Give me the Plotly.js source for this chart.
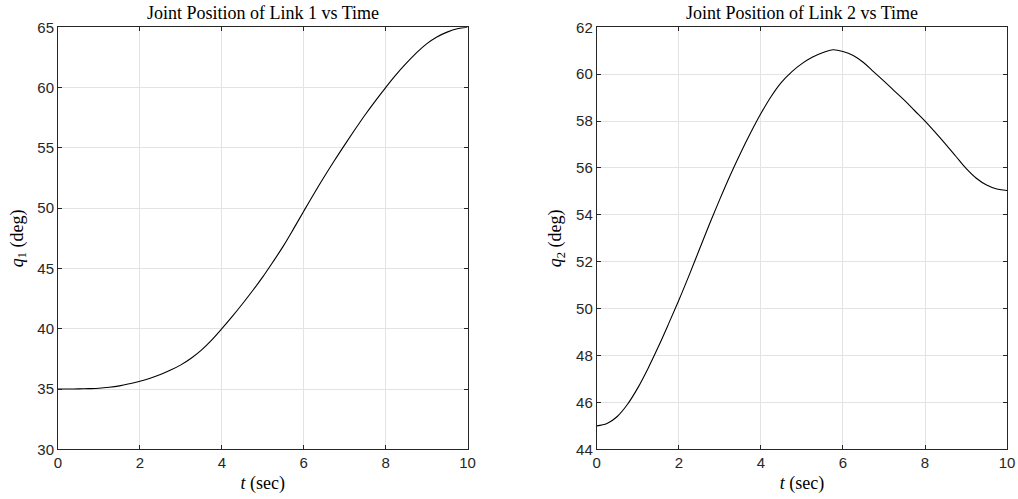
<!DOCTYPE html>
<html>
<head>
<meta charset="utf-8">
<script src="https://cdn.plot.ly/plotly-3.0.1.min.js"></script>
<style>
  html, body { margin: 0; padding: 0; background: #ffffff; }
  #chart { width: 1018px; height: 499px; }
</style>
</head>
<body>
<div id="chart"></div>
<script>
// Time samples (sec), shared by both joints
const timeSec = [0, 0.25, 0.5, 0.75, 1, 1.25, 1.5, 1.75, 2, 2.25, 2.5, 2.75, 3, 3.25, 3.5, 3.75, 4, 4.25, 4.5, 4.75,
                 5, 5.25, 5.5, 5.75, 6, 6.25, 6.5, 6.75, 7, 7.25, 7.5, 7.75, 8, 8.25, 8.5, 8.75, 9, 9.25, 9.5, 9.75, 10];

// Joint 1 angle (deg)
const q1Deg = [35.0, 35.0, 35.01, 35.03, 35.06, 35.14, 35.26, 35.44, 35.65, 35.9, 36.2, 36.57, 37.0, 37.55, 38.22, 39.05,
               40.0, 41.0, 42.05, 43.15, 44.3, 45.55, 46.85, 48.28, 49.75, 51.2, 52.6, 53.95, 55.25, 56.52, 57.75, 58.9,
               60.0, 61.05, 62.0, 62.88, 63.63, 64.2, 64.6, 64.88, 65.0];

// Joint 2 angle (deg)
const q2Deg = [45.0, 45.1, 45.4, 45.92, 46.62, 47.45, 48.37, 49.35, 50.36, 51.42, 52.52, 53.62, 54.67, 55.68, 56.62, 57.5,
               58.32, 59.05, 59.65, 60.1, 60.45, 60.72, 60.91, 61.04, 60.97, 60.8, 60.5, 60.1, 59.7, 59.29, 58.88, 58.44,
               58.0, 57.52, 57.02, 56.5, 55.98, 55.56, 55.27, 55.1, 55.04];

// Axis tick values
const xTicks = [0, 2, 4, 6, 8, 10];
const y1Ticks = [30, 35, 40, 45, 50, 55, 60, 65];
const y2Ticks = [44, 46, 48, 50, 52, 54, 56, 58, 60, 62];

const axisColor = '#262626';
const gridColor = '#e3e3e3';
const tickFont = { family: 'Liberation Sans, Arial, sans-serif', size: 15, color: axisColor };
const serifFont = { family: 'Liberation Serif, Times New Roman, serif', size: 18, color: '#000000' };

function xAxis(domain, anchor) {
  return {
    domain: domain, anchor: anchor, range: [0, 10],
    tickvals: xTicks, ticks: 'inside', ticklen: 4, tickcolor: axisColor,
    showline: true, linecolor: axisColor, linewidth: 1, mirror: 'ticks',
    showgrid: true, gridcolor: gridColor, gridwidth: 1, zeroline: false,
    tickfont: tickFont,
    title: { text: '<i>t</i> (sec)', font: serifFont, standoff: 6 }
  };
}
function yAxis(domain, anchor, range, ticks, label) {
  return {
    domain: domain, anchor: anchor, range: range,
    tickvals: ticks, ticks: 'inside', ticklen: 4, tickcolor: axisColor,
    showline: true, linecolor: axisColor, linewidth: 1, mirror: 'ticks',
    showgrid: true, gridcolor: gridColor, gridwidth: 1, zeroline: false,
    tickfont: tickFont,
    title: { text: label, font: serifFont, standoff: 9 }
  };
}

const yDom = [0.0996, 0.9453];
const x1Dom = [0.057, 0.4593];
const x2Dom = [0.5862, 0.9893];

const lineStyle = { color: '#000000', width: 1.1, shape: 'spline', smoothing: 1 };

const traces = [
  { x: timeSec, y: q1Deg, xaxis: 'x', yaxis: 'y', mode: 'lines', line: lineStyle, hoverinfo: 'skip' },
  { x: timeSec, y: q2Deg, xaxis: 'x2', yaxis: 'y2', mode: 'lines', line: lineStyle, hoverinfo: 'skip' }
];

const layout = {
  width: 1018, height: 499,
  margin: { l: 0, r: 0, t: 0, b: 0 },
  paper_bgcolor: '#ffffff', plot_bgcolor: '#ffffff',
  showlegend: false,
  xaxis: xAxis(x1Dom, 'y'),
  yaxis: yAxis(yDom, 'x', [30, 65], y1Ticks, '<i>q</i><sub>1</sub> (deg)'),
  xaxis2: xAxis(x2Dom, 'y2'),
  yaxis2: yAxis(yDom, 'x2', [44, 62], y2Ticks, '<i>q</i><sub>2</sub> (deg)'),
  annotations: [
    { text: 'Joint Position of Link 1 vs Time', xref: 'paper', yref: 'paper',
      x: (x1Dom[0] + x1Dom[1]) / 2, y: yDom[1], yshift: 2, xanchor: 'center', yanchor: 'bottom',
      showarrow: false, font: serifFont },
    { text: 'Joint Position of Link 2 vs Time', xref: 'paper', yref: 'paper',
      x: (x2Dom[0] + x2Dom[1]) / 2, y: yDom[1], yshift: 2, xanchor: 'center', yanchor: 'bottom',
      showarrow: false, font: serifFont }
  ]
};

Plotly.newPlot('chart', traces, layout, { staticPlot: true, displayModeBar: false });
</script>
</body>
</html>
